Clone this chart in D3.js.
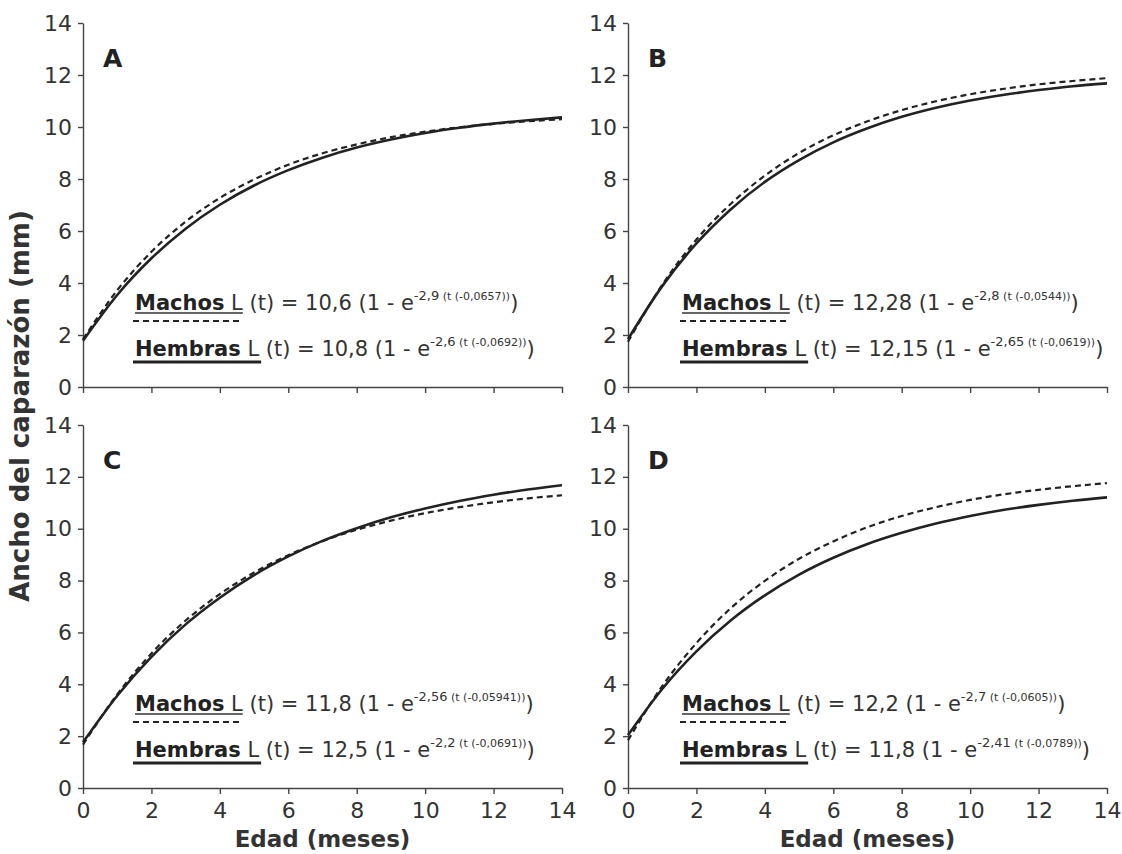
<!DOCTYPE html>
<html>
<head>
<meta charset="utf-8">
<script src="https://cdn.jsdelivr.net/npm/d3@7"></script>
<style>
  html, body { margin: 0; padding: 0; background: #fff; }
  svg { display: block; font-family: "DejaVu Sans", sans-serif; }
  text { white-space: pre; }
</style>
</head>
<body>
<svg id="chart" width="1122" height="854"></svg>
<script>
// Growth curves (carapace width vs age) for four samples, males dashed, females solid

const months = [0, 1, 2, 3, 4, 5, 6, 7, 8, 9, 10, 11, 12, 13, 14];
const xTicks = [0, 2, 4, 6, 8, 10, 12, 14];
const yTicks = [0, 2, 4, 6, 8, 10, 12, 14];

// values (mm)
const machosA  = [1.84, 3.72, 5.20, 6.36, 7.27, 7.98, 8.55, 8.99, 9.33, 9.61, 9.82, 9.99, 10.12, 10.22, 10.30];
const hembrasA = [1.78, 3.54, 4.95, 6.09, 7.01, 7.75, 8.34, 8.82, 9.21, 9.52, 9.77, 9.97, 10.13, 10.26, 10.37];
const machosB  = [1.74, 3.93, 5.67, 7.04, 8.13, 9.00, 9.68, 10.22, 10.65, 10.99, 11.26, 11.47, 11.64, 11.77, 11.88];
const hembrasB = [1.84, 3.88, 5.52, 6.83, 7.89, 8.73, 9.41, 9.95, 10.39, 10.74, 11.02, 11.24, 11.42, 11.57, 11.68];
const machosC  = [1.67, 3.61, 5.19, 6.46, 7.48, 8.31, 8.98, 9.52, 9.96, 10.31, 10.60, 10.83, 11.02, 11.17, 11.29];
const hembrasC = [1.76, 3.56, 5.06, 6.31, 7.34, 8.21, 8.93, 9.53, 10.02, 10.44, 10.78, 11.07, 11.31, 11.51, 11.68];
const machosD  = [1.84, 3.93, 5.59, 6.93, 7.99, 8.84, 9.51, 10.06, 10.49, 10.83, 11.11, 11.33, 11.50, 11.64, 11.76];
const hembrasD = [2.04, 3.82, 5.27, 6.46, 7.43, 8.23, 8.88, 9.41, 9.84, 10.20, 10.49, 10.73, 10.92, 11.08, 11.21];

// equation labels: [L-inf, exponent, t0-part]
const panelLetters = ['A', 'B', 'C', 'D'];
const eqMachos  = [['10,6', '-2,9', '(t (-0,0657))'], ['12,28', '-2,8', '(t (-0,0544))'],
                   ['11,8', '-2,56', '(t (-0,05941))'], ['12,2', '-2,7', '(t (-0,0605))']];
const eqHembras = [['10,8', '-2,6', '(t (-0,0692))'], ['12,15', '-2,65', '(t (-0,0619))'],
                   ['12,5', '-2,2', '(t (-0,0691))'], ['11,8', '-2,41', '(t (-0,0789))']];

const seriesMachos  = [machosA, machosB, machosC, machosD];
const seriesHembras = [hembrasA, hembrasB, hembrasC, hembrasD];

// layout of the 2x2 grid
const panels = [
  { x0: 83,  x1: 562,  top: 23,  bot: 387, legX: 135, labels: false },
  { x0: 628, x1: 1107, top: 23,  bot: 387, legX: 682, labels: false },
  { x0: 83,  x1: 562,  top: 425, bot: 788, legX: 135, labels: true },
  { x0: 628, x1: 1107, top: 425, bot: 788, legX: 682, labels: true }
];

const ink = '#222';
const txt = '#333';
const svg = d3.select('#chart');

panels.forEach((p, i) => {
  const g = svg.append('g');
  const x = d3.scaleLinear().domain([0, 14]).range([p.x0, p.x1]);
  const y = d3.scaleLinear().domain([0, 14]).range([p.bot, p.top]);

  // axes
  const ya = g.append('g')
    .attr('transform', `translate(${p.x0},0)`)
    .call(d3.axisLeft(y).tickValues(yTicks).tickSize(5).tickSizeOuter(0).tickPadding(6));
  const xa = g.append('g')
    .attr('transform', `translate(0,${p.bot})`)
    .call(d3.axisBottom(x).tickValues(xTicks).tickSize(6).tickSizeOuter(0).tickPadding(8)
      .tickFormat(p.labels ? d3.format('d') : ''));
  [ya, xa].forEach(a => {
    a.selectAll('path, line').attr('stroke', '#444').attr('stroke-width', 1.4);
    a.selectAll('text').attr('font-size', 22).attr('fill', txt)
      .attr('font-family', '"DejaVu Sans", sans-serif');
  });

  // curves
  const line = d3.line()
    .x((d, k) => x(months[k]))
    .y(d => y(d))
    .curve(d3.curveMonotoneX);
  g.append('path').datum(seriesHembras[i])
    .attr('d', line).attr('fill', 'none')
    .attr('stroke', ink).attr('stroke-width', 2.6);
  g.append('path').datum(seriesMachos[i])
    .attr('d', line).attr('fill', 'none')
    .attr('stroke', ink).attr('stroke-width', 2.2)
    .attr('stroke-dasharray', '6,4');

  // panel letter
  g.append('text')
    .attr('x', p.x0 + 20).attr('y', p.top + 44)
    .attr('font-size', 25).attr('font-weight', 'bold').attr('fill', ink)
    .text(panelLetters[i]);

  // equations
  function legend(yb, name, eq, dashed){
    const t = g.append('text')
      .attr('x', p.legX).attr('y', yb)
      .attr('font-size', 21).attr('fill', txt);
    const a = t.append('tspan').attr('font-weight', 'bold').attr('fill', ink).text(name);
    const b = t.append('tspan').text(' L');
    t.append('tspan').text(` (t) = ${eq[0]} (1 - e`);
    t.append('tspan').attr('font-size', 13).attr('dy', -10).text(eq[1]);
    t.append('tspan').attr('font-size', 11).text(' ' + eq[2]);
    t.append('tspan').attr('dy', 10).text(')');
    const w = a.node().getComputedTextLength() + b.node().getComputedTextLength();
    if (dashed) {
      g.append('line')
        .attr('x1', p.legX).attr('x2', p.legX + w)
        .attr('y1', yb + 3).attr('y2', yb + 3)
        .attr('stroke', txt).attr('stroke-width', 1.3);
      g.append('line')
        .attr('x1', p.legX - 2).attr('x2', p.legX + w)
        .attr('y1', yb + 11).attr('y2', yb + 11)
        .attr('stroke', ink).attr('stroke-width', 2.2)
        .attr('stroke-dasharray', '6,4');
    } else {
      g.append('line')
        .attr('x1', p.legX - 2).attr('x2', p.legX + w + 2)
        .attr('y1', yb + 6).attr('y2', yb + 6)
        .attr('stroke', ink).attr('stroke-width', 2.8);
    }
  }
  legend(p.bot - 77, 'Machos', eqMachos[i], true);
  legend(p.bot - 31, 'Hembras', eqHembras[i], false);

  if (p.labels) {
    g.append('text')
      .attr('x', (p.x0 + p.x1) / 2).attr('y', 847)
      .attr('text-anchor', 'middle')
      .attr('font-size', 23).attr('font-weight', 'bold').attr('fill', txt)
      .text('Edad (meses)');
  }
});

// shared y title
svg.append('text')
  .attr('transform', 'translate(29,406) rotate(-90)')
  .attr('text-anchor', 'middle')
  .attr('font-size', 26).attr('font-weight', 'bold').attr('fill', txt)
  .text('Ancho del caparazón (mm)');
</script>
</body>
</html>
